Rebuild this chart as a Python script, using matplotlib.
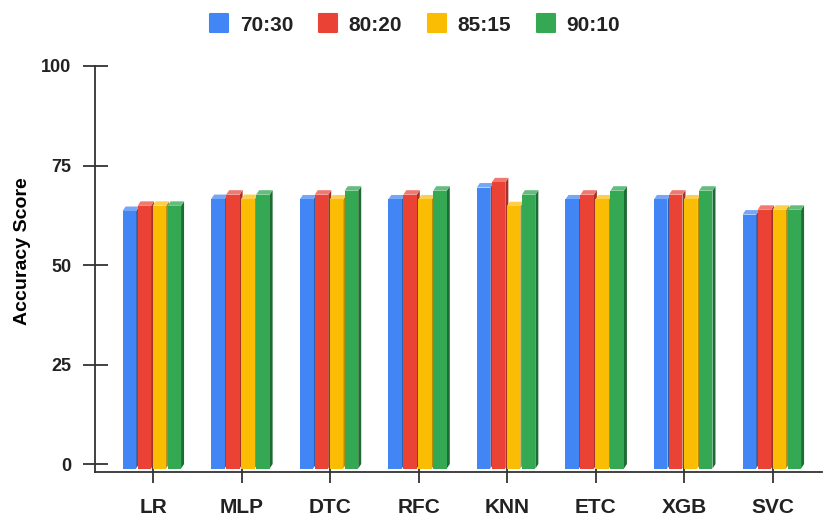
import matplotlib.pyplot as plt
from matplotlib.patches import Polygon
from matplotlib.lines import Line2D
from matplotlib.markers import MarkerStyle

plt.rcParams['font.family'] = ['Liberation Sans', 'DejaVu Sans']
plt.rcParams['font.weight'] = 'bold'
plt.rcParams['text.color'] = '#222222'

models = ['LR', 'MLP', 'DTC', 'RFC', 'KNN', 'ETC', 'XGB', 'SVC']
splits = ['70:30', '80:20', '85:15', '90:10']
acc_70_30 = [64.7, 67.7, 67.6, 67.6, 70.6, 67.6, 67.6, 63.8]
acc_80_20 = [66.0, 68.8, 68.8, 68.8, 71.9, 68.8, 68.8, 65.0]
acc_85_15 = [66.0, 67.7, 67.6, 67.6, 65.9, 67.6, 67.6, 65.0]
acc_90_10 = [66.0, 68.8, 69.8, 69.8, 68.8, 69.8, 69.8, 65.0]
series = [acc_70_30, acc_80_20, acc_85_15, acc_90_10]

front = ['#4285F4', '#EA4335', '#FBBC04', '#34A853']
side = ['#2f5fb3', '#a83127', '#b98a03', '#1f6b34']
top = ['#76a7f7', '#f07a70', '#fccf4d', '#63bd7c']

fig = plt.figure(figsize=(8.3, 5.16), dpi=100)
ax = fig.add_axes([95 / 830, 44 / 516, 727 / 830, 406 / 516])
ax.set_xlim(-0.655, 7.553)
ax.set_ylim(-2, 100)

# pixel sizes -> data units
sx = ax.bbox.width / (7.553 + 0.655)
sy = ax.bbox.height / 102
ddx = 3 / sx       # depth, horizontal
ddy = 4.5 / sy     # depth, vertical
step = 15 / sx
w = 13.5 / sx
shift = 1.2 / sx

for j in range(len(models)):
    for i, vals in enumerate(series):
        v = vals[j]
        xc = j + (i - 1.5) * step - shift
        x0 = xc - w / 2
        z = 2 + i * 0.1
        ax.bar(x0, v, width=w, bottom=-ddy, align='edge', color=front[i],
               linewidth=0, zorder=z + 0.02)
        ax.add_patch(Polygon([(x0 + w, -ddy), (x0 + w + ddx, 0),
                              (x0 + w + ddx, v), (x0 + w, v - ddy)],
                             closed=True, color=side[i], lw=0, zorder=z))
        ax.add_patch(Polygon([(x0, v - ddy), (x0 + w, v - ddy),
                              (x0 + w + ddx, v), (x0 + ddx, v)],
                             closed=True, color=top[i], lw=0, zorder=z + 0.01))

for s in ['top', 'right']:
    ax.spines[s].set_visible(False)
for s in ['left', 'bottom']:
    ax.spines[s].set_color('#333333')
    ax.spines[s].set_linewidth(1.3)
    ax.spines[s].set_zorder(3)

ax.set_yticks([0, 25, 50, 75, 100])
ax.set_xticks(range(len(models)))
ax.set_xticklabels(models)
ax.tick_params(axis='y', direction='inout', length=18, width=1.3,
               color='#333333', pad=8, labelsize=13)
ax.tick_params(axis='x', direction='inout', length=16, width=1.3,
               color='#333333', pad=11, labelsize=15)
for lab in ax.get_xticklabels() + ax.get_yticklabels():
    lab.set_fontweight('bold')
    lab.set_color('#222222')

ax.set_ylabel('Accuracy Score', fontsize=14, fontweight='bold', va='center')
ax.yaxis.set_label_coords(-0.1004, 0.545)

square = MarkerStyle('s', joinstyle='round')
handles = [Line2D([], [], ls='', marker=square, markersize=12.5,
                  markerfacecolor=c, markeredgecolor=c, markeredgewidth=1.5)
           for c in front]
fig.legend(handles, splits, loc='center', bbox_to_anchor=(415 / 830, 1 - 25 / 516),
           ncol=4, frameon=False, prop={'weight': 'bold', 'size': 15},
           handlelength=0.9, handleheight=0.9, handletextpad=0.55,
           columnspacing=1.2)

fig.savefig('out.png', dpi=100)
